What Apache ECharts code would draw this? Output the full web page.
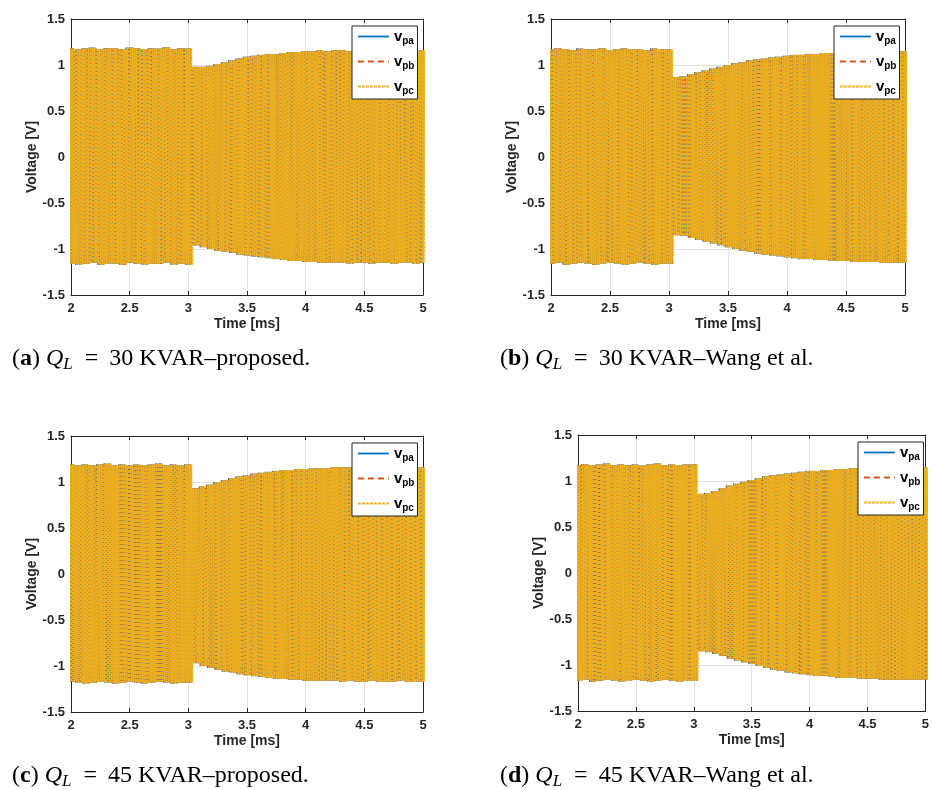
<!DOCTYPE html>
<html>
<head>
<meta charset="utf-8">
<title>Voltage v_pa v_pb v_pc</title>
<script src="https://cdn.jsdelivr.net/npm/echarts@6/dist/echarts.min.js"></script>
</head>
<body style="margin:0;background:#fff;">
<div id="main" style="width:932px;height:790px;"></div>
<script>
// one reading of the voltage envelope per stripe, every 1/16 ms from 2 ms to 5 ms
var stepStart = 2;
var stepLen = 1 / 16;
var subCycles = 4;

var upperA = [1.18,1.17,1.18,1.19,1.17,1.18,1.18,1.17,1.19,1.18,1.17,1.18,1.18,1.19,1.17,1.18,1.18,
  0.98,0.98,0.99,1.01,1.03,1.05,1.07,1.09,1.10,1.11,1.12,1.12,1.13,1.14,1.14,1.15,
  1.15,1.16,1.15,1.16,1.16,1.15,1.16,1.16,1.16,1.15,1.16,1.16,1.16,1.15,1.16,1.16];
var lowerA = [-1.16,-1.17,-1.16,-1.15,-1.17,-1.16,-1.16,-1.17,-1.15,-1.16,-1.17,-1.16,-1.16,-1.15,-1.17,-1.16,-1.17,
  -0.96,-0.98,-1.00,-1.02,-1.03,-1.04,-1.06,-1.07,-1.08,-1.09,-1.10,-1.11,-1.12,-1.13,-1.13,-1.14,
  -1.14,-1.15,-1.15,-1.15,-1.15,-1.16,-1.15,-1.15,-1.16,-1.15,-1.15,-1.16,-1.15,-1.15,-1.16,-1.15];

var upperB = [1.17,1.18,1.17,1.16,1.18,1.17,1.17,1.18,1.16,1.17,1.18,1.17,1.17,1.16,1.18,1.17,1.17,
  0.87,0.88,0.90,0.92,0.94,0.96,0.98,1.00,1.02,1.03,1.05,1.06,1.07,1.08,1.09,1.10,
  1.11,1.11,1.12,1.12,1.13,1.13,1.14,1.14,1.14,1.15,1.15,1.15,1.15,1.15,1.15,1.15];
var lowerB = [-1.16,-1.15,-1.17,-1.16,-1.15,-1.16,-1.17,-1.16,-1.15,-1.16,-1.17,-1.16,-1.15,-1.16,-1.17,-1.16,-1.16,
  -0.85,-0.86,-0.88,-0.90,-0.92,-0.94,-0.96,-0.98,-1.00,-1.02,-1.03,-1.05,-1.06,-1.07,-1.08,-1.09,
  -1.10,-1.11,-1.11,-1.12,-1.12,-1.13,-1.13,-1.13,-1.14,-1.14,-1.14,-1.14,-1.15,-1.15,-1.15,-1.15];

var upperC = [1.19,1.18,1.19,1.18,1.19,1.20,1.18,1.19,1.18,1.19,1.18,1.19,1.20,1.18,1.19,1.18,1.19,
  0.93,0.95,0.97,1.00,1.02,1.04,1.06,1.07,1.09,1.10,1.11,1.12,1.13,1.13,1.14,1.14,
  1.15,1.15,1.15,1.16,1.16,1.16,1.16,1.16,1.16,1.16,1.16,1.16,1.16,1.16,1.16,1.16];
var lowerC = [-1.17,-1.18,-1.19,-1.18,-1.17,-1.18,-1.19,-1.18,-1.17,-1.18,-1.19,-1.18,-1.17,-1.18,-1.19,-1.18,-1.18,
  -0.97,-1.00,-1.02,-1.04,-1.06,-1.07,-1.09,-1.10,-1.11,-1.12,-1.13,-1.14,-1.14,-1.15,-1.15,-1.16,
  -1.16,-1.16,-1.16,-1.16,-1.17,-1.16,-1.17,-1.17,-1.16,-1.17,-1.17,-1.17,-1.16,-1.17,-1.17,-1.17];

var upperD = [1.17,1.18,1.17,1.18,1.19,1.17,1.18,1.17,1.18,1.17,1.18,1.19,1.17,1.18,1.17,1.18,1.18,
  0.86,0.87,0.89,0.92,0.95,0.97,0.99,1.01,1.03,1.05,1.06,1.07,1.08,1.09,1.10,1.11,
  1.11,1.12,1.12,1.13,1.13,1.14,1.14,1.14,1.14,1.15,1.15,1.15,1.15,1.15,1.15,1.15];
var lowerD = [-1.17,-1.16,-1.18,-1.17,-1.16,-1.17,-1.18,-1.17,-1.16,-1.17,-1.18,-1.17,-1.16,-1.17,-1.18,-1.17,-1.17,
  -0.85,-0.86,-0.88,-0.90,-0.93,-0.95,-0.97,-0.99,-1.01,-1.03,-1.05,-1.06,-1.08,-1.09,-1.10,-1.11,
  -1.12,-1.12,-1.13,-1.14,-1.14,-1.14,-1.15,-1.15,-1.15,-1.16,-1.16,-1.16,-1.16,-1.16,-1.16,-1.16];

var phaseNames = ['vpa', 'vpb', 'vpc'];
var captionLetters = ['a', 'b', 'c', 'd'];
var captionKvar = ['30', '30', '45', '45'];
var captionMethod = ['proposed', 'Wang et al', 'proposed', 'Wang et al'];

var uppers = [upperA, upperB, upperC, upperD];
var lowers = [lowerA, lowerB, lowerC, lowerD];

// layout
var grids = [
  { left: 71, top: 19, width: 352, height: 276 },
  { left: 551, top: 19, width: 354, height: 276 },
  { left: 71, top: 436, width: 352, height: 276 },
  { left: 578, top: 435, width: 351, height: 276 }
];
var capPos = [[12, 347], [500, 347], [12, 764], [500, 764]];
var colors = ['#0072BD', '#D95319', '#EDB120'];
var dashes = ['solid', [6, 4], [3, 1]];
var widths = [1, 1, 1.7];
var font = 'Liberation Sans, Arial, sans-serif';
var serif = 'Liberation Serif, serif';
var ink = '#262626';

function phaseData(upper, lower, phase) {
  var pts = [];
  var sub = stepLen / subCycles;
  for (var k = 0; k < upper.length; k++) {
    for (var j = 0; j < subCycles; j++) {
      var t = stepStart + k * stepLen - stepLen / 2 + j * sub + phase * sub / 3;
      pts.push([t, upper[k]]);
      pts.push([t + sub / 2, lower[k]]);
    }
  }
  return pts;
}

var myChart = echarts.init(document.getElementById('main'));

var xAxes = [], yAxes = [], series = [], legends = [], graphics = [];
grids.forEach(function (g, p) {
  xAxes.push({
    gridIndex: p, type: 'value', min: 2, max: 5, interval: 0.5,
    name: 'Time [ms]', nameLocation: 'middle', nameGap: 22,
    nameTextStyle: { fontFamily: font, fontWeight: 'bold', fontSize: 14, color: ink },
    axisLine: { show: true, onZero: false, lineStyle: { color: ink, width: 1 } },
    axisTick: { show: true, inside: true, length: 4, lineStyle: { color: ink } },
    axisLabel: { margin: 7, fontFamily: font, fontWeight: 'bold', fontSize: 13, color: ink },
    splitLine: { show: true, lineStyle: { color: '#e2e2e2', width: 1 } }
  });
  xAxes.push({
    gridIndex: p, type: 'value', position: 'top', min: 2, max: 5, interval: 0.5, z: 3,
    axisLine: { show: true, onZero: false, lineStyle: { color: ink, width: 1 } },
    axisTick: { show: true, inside: true, length: 4, lineStyle: { color: ink } },
    axisLabel: { show: false }, splitLine: { show: false }
  });
  yAxes.push({
    gridIndex: p, type: 'value', min: -1.5, max: 1.5, interval: 0.5,
    name: 'Voltage [V]', nameLocation: 'middle', nameGap: 31,
    nameTextStyle: { fontFamily: font, fontWeight: 'bold', fontSize: 14, color: ink },
    axisLine: { show: true, onZero: false, lineStyle: { color: ink, width: 1 } },
    axisTick: { show: true, inside: true, length: 4, lineStyle: { color: ink } },
    axisLabel: { margin: 6, fontFamily: font, fontWeight: 'bold', fontSize: 13, color: ink },
    splitLine: { show: true, lineStyle: { color: '#e2e2e2', width: 1 } }
  });
  yAxes.push({
    gridIndex: p, type: 'value', position: 'right', min: -1.5, max: 1.5, interval: 0.5, z: 3,
    axisLine: { show: true, onZero: false, lineStyle: { color: ink, width: 1 } },
    axisTick: { show: true, inside: true, length: 4, lineStyle: { color: ink } },
    axisLabel: { show: false }, splitLine: { show: false }
  });
  phaseNames.forEach(function (name, ph) {
    series.push({
      type: 'line', name: name, xAxisIndex: p * 2, yAxisIndex: p * 2,
      data: phaseData(uppers[p], lowers[p], ph),
      symbol: 'none', silent: true, animation: false,
      lineStyle: { color: colors[ph], width: widths[ph], type: dashes[ph] },
      itemStyle: { color: colors[ph] }
    });
  });
  legends.push({
    data: phaseNames, orient: 'vertical',
    left: g.left + g.width - 71, top: g.top + 7,
    backgroundColor: '#fff', borderColor: ink, borderWidth: 1,
    padding: [3, 3, 3, 5], itemGap: 8, itemWidth: 31, itemHeight: 15,
    selectedMode: false,
    itemStyle: { opacity: 0 },
    lineStyle: { width: 1.8 },
    formatter: function (name) { return '{v|v}{s|' + name.slice(1) + '}'; },
    textStyle: {
      rich: {
        v: { fontFamily: font, fontWeight: 'bold', fontSize: 15, color: '#000' },
        s: { fontFamily: font, fontWeight: 'bold', fontSize: 10, color: '#000', padding: [9, 0, 0, 0] }
      }
    }
  });
  graphics.push({
    type: 'text', left: capPos[p][0], top: capPos[p][1],
    style: {
      text: '{n|(}{b|' + captionLetters[p] + '}{n|) }{i|Q}{s|L}{e|=}{n|' + captionKvar[p] + ' KVAR–' + captionMethod[p] + '.}',
      rich: {
        n: { fontFamily: serif, fontSize: 24, color: '#000' },
        b: { fontFamily: serif, fontSize: 24, fontWeight: 'bold', color: '#000' },
        i: { fontFamily: serif, fontSize: 24, fontStyle: 'italic', color: '#000' },
        e: { fontFamily: serif, fontSize: 24, color: '#000', padding: [0, 11, 0, 11] },
        s: { fontFamily: serif, fontSize: 17, fontStyle: 'italic', color: '#000', padding: [12, 1, 0, 0] }
      }
    }
  });
});

var option = {
  animation: false,
  backgroundColor: '#fff',
  grid: grids.map(function (g) {
    return { left: g.left, top: g.top, width: g.width, height: g.height, show: false };
  }),
  xAxis: xAxes,
  yAxis: yAxes,
  legend: legends,
  graphic: graphics,
  series: series
};

myChart.setOption(option);
</script>
</body>
</html>
